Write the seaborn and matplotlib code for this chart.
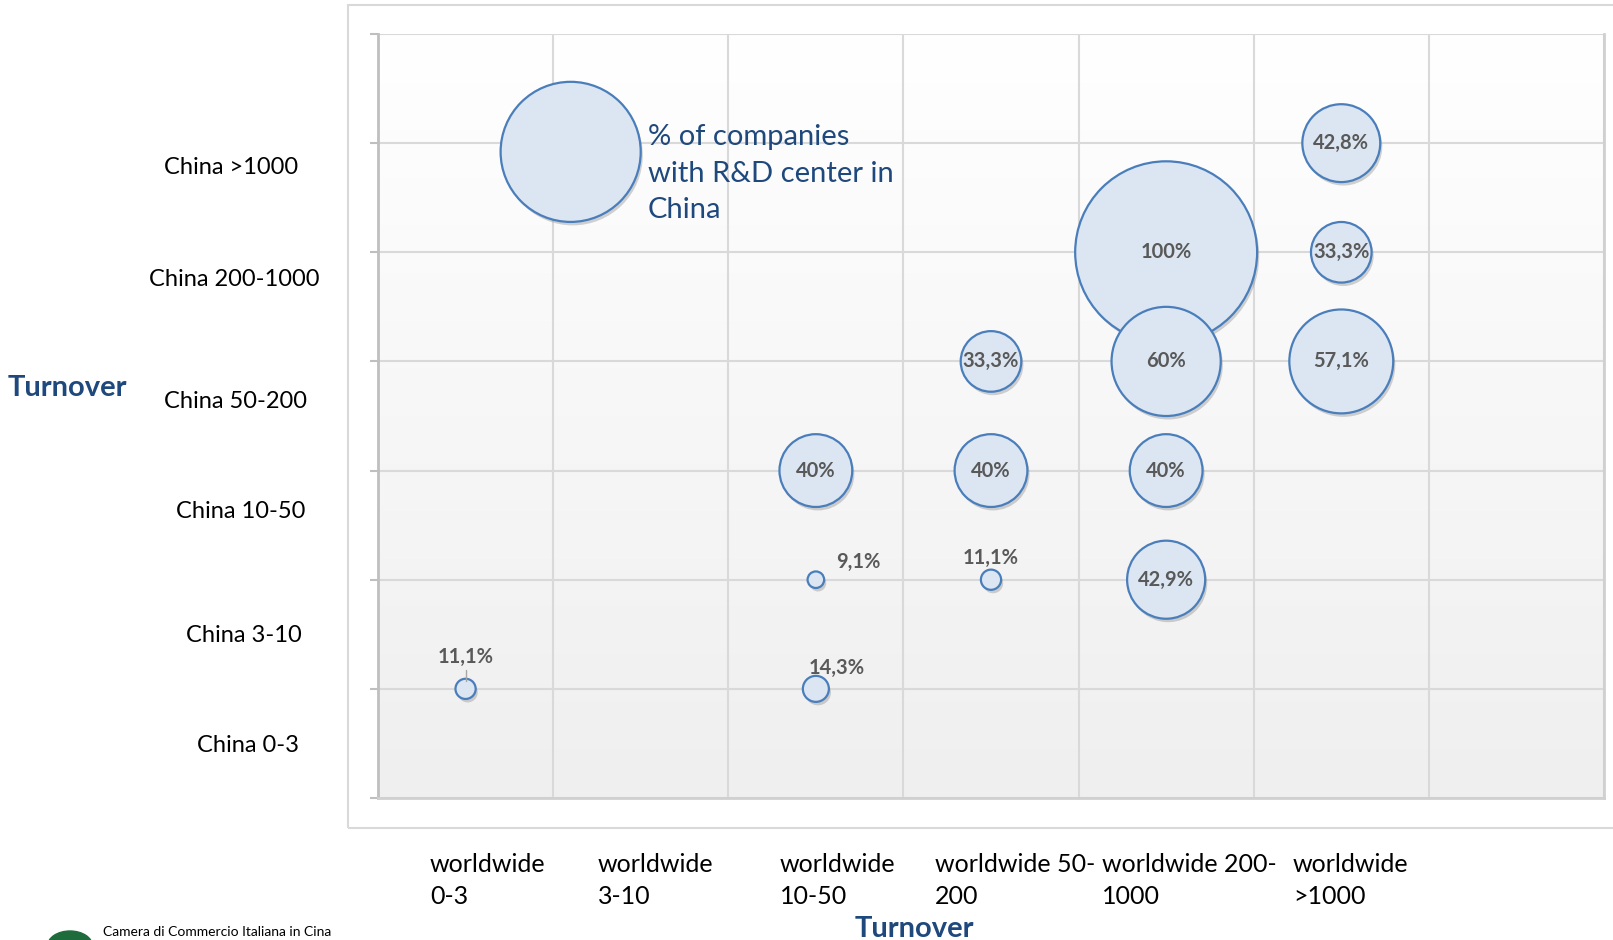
import matplotlib
matplotlib.use("Agg")
import matplotlib.pyplot as plt
import matplotlib.patheffects as pe
from matplotlib.colors import LinearSegmentedColormap
from matplotlib.patches import Rectangle, Ellipse
import numpy as np
import pandas as pd
import seaborn as sns

# categories
worldwide_labels = ["worldwide\n0-3", "worldwide\n3-10", "worldwide\n10-50",
                    "worldwide 50-\n200", "worldwide 200-\n1000", "worldwide\n>1000"]
china_labels = ["China 0-3", "China 3-10", "China 10-50",
                "China 50-200", "China 200-1000", "China >1000"]

# bubbles: worldwide index, china index, % of companies with R&D center in China
ww_idx = [0, 2, 2, 3, 4, 2, 3, 4, 3, 4, 5, 4, 5, 5]
cn_idx = [0, 0, 1, 1, 1, 2, 2, 2, 3, 3, 3, 4, 4, 5]
pct = [11.1, 14.3, 9.1, 11.1, 42.9, 40, 40, 40, 33.3, 60, 57.1, 100, 33.3, 42.8]
pct_text = ["11,1%", "14,3%", "9,1%", "11,1%", "42,9%", "40%", "40%", "40%",
            "33,3%", "60%", "57,1%", "100%", "33,3%", "42,8%"]

# legend bubble (size key)
legend_pct = 77
legend_text = "% of companies\nwith R&D center in\nChina"

W, H = 1613, 940
FILL = "#dce6f2"
EDGE = "#4a7ebb"
DARKBLUE = "#1f497d"

sns.set_theme(style="white")
plt.rcParams['font.family'] = ['Lato', 'DejaVu Sans']

df = pd.DataFrame({"ww": ww_idx, "cn": cn_idx, "pct": pct, "txt": pct_text})
df["x"] = df["ww"] + 0.5
df["y"] = df["cn"] + 1
# excel bubbles: diameter proportional to value
df["s"] = (1.31 * df["pct"]) ** 2

fig = plt.figure(figsize=(W / 100, H / 100), dpi=100)
fig.patch.set_facecolor("white")

# outer chart frame
fig.patches.append(Rectangle((348 / W, 1 - 828 / H), 1.0, (828 - 5) / H,
                             transform=fig.transFigure, fill=False,
                             edgecolor="#d9d9d9", lw=1.5, zorder=0))

ax = fig.add_axes([378 / W, 1 - 798 / H, (1604 - 378) / W, (798 - 34) / H])

# gradient plot area
cmap = LinearSegmentedColormap.from_list("bg", ["#ffffff", "#efefef"])
ax.imshow(np.linspace(0, 1, 256).reshape(-1, 1), cmap=cmap, extent=[0, 7, 0, 7],
          aspect="auto", origin="upper", zorder=0)

ax.set_xlim(0, 7)
ax.set_ylim(0, 7)
ax.set_xticks(range(8))
ax.set_yticks(range(8))
ax.grid(True, color="#d9d9d9", lw=1.5, zorder=1)
ax.set_axisbelow(True)
ax.tick_params(axis="y", left=True, length=6, width=1.5, color="#bfbfbf",
               labelleft=False)
ax.tick_params(axis="x", bottom=False, labelbottom=False)
ax.spines["top"].set_visible(False)
ax.spines["left"].set_color("#bfbfbf")
ax.spines["left"].set_linewidth(2)
ax.spines["bottom"].set_color("#d0d0d0")
ax.spines["bottom"].set_linewidth(2)
ax.spines["right"].set_color("#d0d0d0")
ax.spines["right"].set_linewidth(2)

shadow = [pe.SimplePatchShadow(offset=(1.5, -2.5), shadow_rgbFace="#7f7f7f", alpha=0.35),
          pe.Normal()]

# legend key bubble
sns.scatterplot(x=[1.1], y=[5.92], s=(1.31 * legend_pct) ** 2, color=FILL,
                edgecolor=EDGE, linewidth=1.6, ax=ax, zorder=3, legend=False)
ax.collections[-1].set_path_effects(shadow)
ax.text(1.54, 5.72, legend_text, color=DARKBLUE, fontsize=21, ha="left",
        va="center", linespacing=1.5, zorder=5)

# data bubbles, biggest first so small ones stay on top
df_plot = df.sort_values("pct", ascending=False)
sns.scatterplot(data=df_plot, x="x", y="y", s=df_plot["s"].values, color=FILL,
                edgecolor=EDGE, linewidth=1.6, ax=ax, zorder=3, legend=False)
ax.collections[-1].set_path_effects(shadow)
ax.set_xlabel("")
ax.set_ylabel("")

# value labels
for _, r in df.iterrows():
    off = (0, 0)
    if r["pct"] < 20:
        off = (0, 22)
    if r["txt"] == "9,1%":
        off = (42, 18)
    if r["txt"] == "14,3%":
        off = (21, 21)
    if r["ww"] == 0:
        off = (0, 32)
        ax.plot([r["x"], r["x"]], [r["y"] + 0.07, r["y"] + 0.17], color="#a6a6a6",
                lw=1, zorder=4)
    ax.annotate(r["txt"], (r["x"], r["y"]), xytext=off, textcoords="offset pixels",
                ha="center", va="center", fontsize=14.5, fontweight="bold",
                color="#595959", zorder=6)

# category labels (hand placed text boxes as in the original slide)
y_lab_pos = [(248, 746), (244, 635), (241, 512), (236, 402), (234, 279), (231, 167)]
for lab, (px, py) in zip(china_labels, y_lab_pos):
    fig.text(px / W, 1 - py / H, lab, ha="center", va="center", fontsize=17,
             color="black")

x_lab_pos = [430, 598, 780, 935, 1102, 1293]
for lab, px in zip(worldwide_labels, x_lab_pos):
    fig.text(px / W, 1 - 853 / H, lab, ha="left", va="top", fontsize=18,
             color="black", linespacing=1.45)

fig.text(8 / W, 1 - 388 / H, "Turnover", ha="left", va="center", fontsize=21,
         fontweight="bold", color=DARKBLUE)
fig.text(914 / W, 1 - 929 / H, "Turnover", ha="center", va="center", fontsize=21,
         fontweight="bold", color=DARKBLUE)

# logo at the bottom of the slide
fig.patches.append(Ellipse((70 / W, 1 - 946 / H), 45 / W, 30 / H,
                           transform=fig.transFigure, color="#1e6b3c", zorder=2))
fig.text(103 / W, 1 - 938 / H, "Camera di Commercio Italiana in Cina", ha="left",
         va="bottom", fontsize=10, color="black")

plt.savefig("out.png", dpi=100)
plt.close()
